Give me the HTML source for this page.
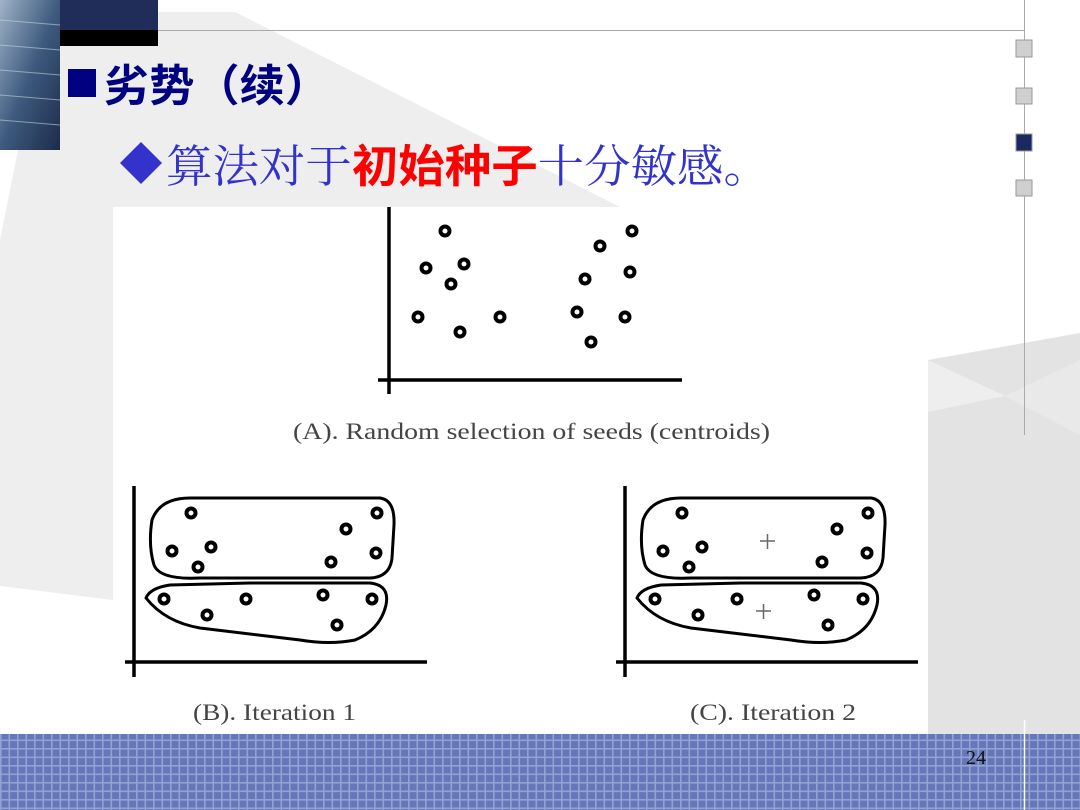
<!DOCTYPE html>
<html><head><meta charset="utf-8"><style>
html,body{margin:0;padding:0;width:1080px;height:810px;overflow:hidden;background:#fff}
svg{display:block}
</style></head><body>
<svg width="1080" height="810" viewBox="0 0 1080 810" xmlns="http://www.w3.org/2000/svg">
<defs>
<pattern id="grid" width="8.5" height="8.5" patternUnits="userSpaceOnUse">
<rect width="8.5" height="8.5" fill="#93a2d4"/>
<rect x="1.6" y="1.6" width="6.9" height="6.9" fill="#6677b9"/>
</pattern>
<linearGradient id="ph" x1="0" y1="0" x2="1" y2="1">
<stop offset="0" stop-color="#9fb3c8"/><stop offset="0.5" stop-color="#3e5a7e"/><stop offset="1" stop-color="#1c2c4a"/>
</linearGradient>
</defs>
<polygon points="60,12 235,12 620,207 113,600 0,586 0,240 18,150" fill="#eeeeee"/>
<polygon points="928,360 1080,333 1080,735 928,735" fill="#e3e3e3"/>
<polygon points="928,360 1005,396 928,412" fill="#eeeeee"/>
<polygon points="1005,396 1080,435 1080,360" fill="#e9e9e9"/>
<polygon points="0,0 60,0 60,150 0,150" fill="url(#ph)"/>
<g stroke="#c8d4e0" stroke-width="1" opacity="0.6">
<line x1="0" y1="20" x2="60" y2="25"/><line x1="0" y1="45" x2="60" y2="50"/><line x1="0" y1="70" x2="60" y2="75"/><line x1="0" y1="95" x2="60" y2="100"/><line x1="0" y1="120" x2="60" y2="125"/>
</g>
<rect x="60" y="0" width="98" height="30" fill="#1f2d58"/>
<rect x="60" y="30" width="98" height="16" fill="#000"/>
<line x1="158" y1="30.5" x2="1024" y2="30.5" stroke="#aaa" stroke-width="1"/>
<line x1="1024.5" y1="0" x2="1024.5" y2="435" stroke="#aaa" stroke-width="1"/>
<rect x="1016" y="40" width="16" height="17" fill="#cfcfcf" stroke="#999"/>
<rect x="1016" y="88" width="16" height="16" fill="#cfcfcf" stroke="#999"/>
<rect x="1016" y="134" width="16" height="17" fill="#1b2a5e" stroke="#999"/>
<rect x="1016" y="180" width="16" height="16" fill="#cfcfcf" stroke="#999"/>
<rect x="68" y="69" width="28" height="28" fill="#000080"/>
<text x="104" y="101" font-family="'Liberation Sans','Noto Sans CJK SC',sans-serif" font-size="44" font-weight="bold" fill="#000080" textLength="226" lengthAdjust="spacingAndGlyphs">劣势（续）</text>
<polygon points="141,142 162,163 141,184 120,163" fill="#3333cc"/>
<text x="166" y="182" font-family="'Liberation Sans','Noto Serif CJK SC',serif" font-size="45" fill="#3333cc" textLength="604" lengthAdjust="spacingAndGlyphs">算法对于<tspan fill="#ff0000" font-weight="bold" font-family="'Noto Sans CJK SC',sans-serif">初始种子</tspan>十分敏感。</text>
<rect x="113" y="207" width="815" height="528" fill="#fff"/>
<g stroke="#000" fill="none" stroke-width="3.5">
<line x1="389" y1="207" x2="389" y2="394"/><line x1="378" y1="380" x2="682" y2="380"/>
</g>
<g stroke="#000" fill="none" stroke-width="4">
<circle cx="445" cy="231" r="4.5"/><circle cx="426" cy="268" r="4.5"/><circle cx="464" cy="264" r="4.5"/><circle cx="451" cy="284" r="4.5"/>
<circle cx="418" cy="317" r="4.5"/><circle cx="460" cy="332" r="4.5"/><circle cx="500" cy="317" r="4.5"/>
<circle cx="600" cy="246" r="4.5"/><circle cx="632" cy="231" r="4.5"/><circle cx="585" cy="279" r="4.5"/><circle cx="630" cy="272" r="4.5"/>
<circle cx="577" cy="312" r="4.5"/><circle cx="625" cy="317" r="4.5"/><circle cx="591" cy="342" r="4.5"/>
</g>
<text x="293" y="439" font-family="'Liberation Serif',serif" font-size="23" fill="#444" textLength="477" lengthAdjust="spacingAndGlyphs">(A). Random selection of seeds (centroids)</text>
<g id="pb">
<g stroke="#000" fill="none" stroke-width="3.5">
<line x1="134" y1="486" x2="134" y2="677"/><line x1="125" y1="662" x2="427" y2="662"/>
</g>
<g stroke="#000" fill="none" stroke-width="3">
<path d="M190,498 L380,498 Q395,500 394,525 L392,558 Q390,577 370,578 L200,578 Q160,580 154,565 Q148,545 152,520 Q160,498 190,498 Z"/>
<path d="M146,598 Q150,588 170,585 L250,583 L370,583 Q390,585 386,605 Q380,630 355,640 Q330,645 300,640 L200,628 Q165,622 146,598 Z"/>
</g>
<g stroke="#000" fill="none" stroke-width="4">
<circle cx="191" cy="513" r="4.5"/><circle cx="172" cy="551" r="4.5"/><circle cx="211" cy="547" r="4.5"/><circle cx="198" cy="567" r="4.5"/>
<circle cx="346" cy="529" r="4.5"/><circle cx="377" cy="513" r="4.5"/><circle cx="376" cy="553" r="4.5"/><circle cx="331" cy="562" r="4.5"/>
<circle cx="164" cy="599" r="4.5"/><circle cx="207" cy="615" r="4.5"/><circle cx="246" cy="599" r="4.5"/><circle cx="323" cy="595" r="4.5"/>
<circle cx="372" cy="599" r="4.5"/><circle cx="337" cy="625" r="4.5"/>
</g>
</g>
<use href="#pb" transform="translate(491,0)"/>
<g stroke="#666" stroke-width="1.5">
<line x1="760" y1="541" x2="775" y2="541"/><line x1="767.5" y1="534" x2="767.5" y2="549"/>
<line x1="756" y1="611" x2="771" y2="611"/><line x1="763.5" y1="604" x2="763.5" y2="619"/>
</g>
<text x="193" y="720" font-family="'Liberation Serif',serif" font-size="23" fill="#444" textLength="163" lengthAdjust="spacingAndGlyphs">(B). Iteration 1</text>
<text x="690" y="720" font-family="'Liberation Serif',serif" font-size="23" fill="#444" textLength="166" lengthAdjust="spacingAndGlyphs">(C). Iteration 2</text>
<rect x="0" y="734" width="1080" height="76" fill="url(#grid)"/>
<line x1="1024.5" y1="720" x2="1024.5" y2="810" stroke="#fff" stroke-width="1.5"/>
<text x="966" y="764" font-family="'Liberation Serif',serif" font-size="20" fill="#111">24</text>
</svg>
</body></html>
